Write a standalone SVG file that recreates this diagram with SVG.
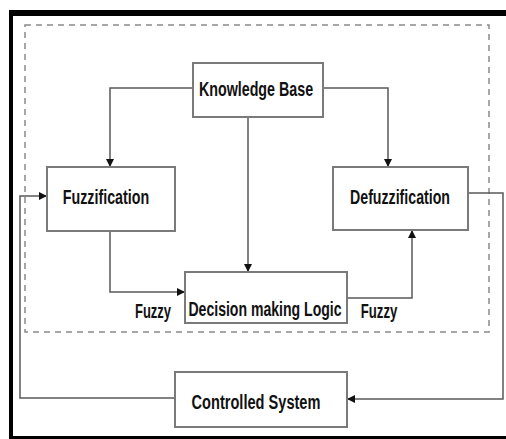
<svg xmlns="http://www.w3.org/2000/svg" width="506" height="439" viewBox="0 0 506 439">
<style>
.box{fill:#fff;stroke:#7a7a7a;stroke-width:2}
.lbl{font-family:"Liberation Sans",Arial,sans-serif;font-weight:bold;font-size:21px;fill:#111;text-anchor:middle}
.sm{font-size:20px}
.con{fill:none;stroke:#5a5a5a;stroke-width:1.5}
</style>
<defs>
<marker id="ah" viewBox="0 0 10 10" refX="10" refY="5" markerWidth="8" markerHeight="8" markerUnits="userSpaceOnUse" orient="auto">
<path d="M0,0 L10,5 L0,10 z" fill="#111"/>
</marker>
</defs>
<rect width="506" height="439" fill="#fff"/>
<g id="frame">
<rect x="9" y="10" width="497" height="6" fill="#000"/>
<rect x="9" y="10" width="4" height="429" fill="#000"/>
<rect x="9" y="436" width="497" height="3" fill="#000"/>
</g>
<rect id="boundary" x="25" y="25" width="464" height="307" fill="none" stroke="#8a8a8a" stroke-width="1.5" stroke-dasharray="6,5"/>
<g id="connectors">
<path class="con" d="M193,88 H110 V167" marker-end="url(#ah)"/>
<path class="con" d="M323,88 H388 V167" marker-end="url(#ah)"/>
<path class="con" d="M248,117 V272" marker-end="url(#ah)"/>
<path class="con" d="M110,231 V292 H185" marker-end="url(#ah)"/>
<path class="con" d="M347,298 H412 V230" marker-end="url(#ah)"/>
<path class="con" d="M468,193 H503 V399 H347" marker-end="url(#ah)"/>
<path class="con" d="M175,398 H20 V196 H47" marker-end="url(#ah)"/>
</g>
<g id="knowledge-base">
<rect class="box" x="193" y="63" width="130" height="54"/>
<text class="lbl" transform="translate(256,96) scale(0.68,1)">Knowledge Base</text>
</g>
<g id="fuzzification">
<rect class="box" x="47" y="167" width="128" height="64"/>
<text class="lbl" transform="translate(106,204) scale(0.68,1)">Fuzzification</text>
</g>
<g id="defuzzification">
<rect class="box" x="333" y="167" width="135" height="63"/>
<text class="lbl" transform="translate(400,204) scale(0.675,1)">Defuzzification</text>
</g>
<g id="decision-making-logic">
<rect class="box" x="185" y="272" width="162" height="51"/>
<text class="lbl" transform="translate(265,316) scale(0.67,1)">Decision making Logic</text>
</g>
<g id="controlled-system">
<rect class="box" x="175" y="372" width="172" height="55"/>
<text class="lbl" transform="translate(256,409) scale(0.695,1)">Controlled System</text>
</g>
<text class="lbl sm" transform="translate(153,318) scale(0.65,1)">Fuzzy</text>
<text class="lbl sm" transform="translate(379,318) scale(0.66,1)">Fuzzy</text>
</svg>
